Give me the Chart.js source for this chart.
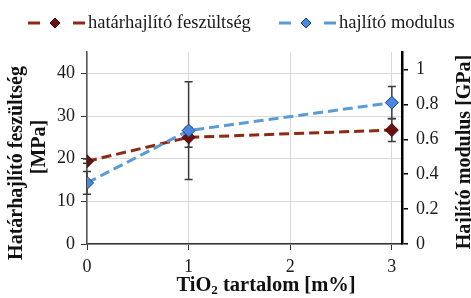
<!DOCTYPE html>
<html>
<head>
<meta charset="utf-8">
<script src="https://cdn.jsdelivr.net/npm/chart.js@4.4.1/dist/chart.umd.min.js"></script>
<style>
  html, body { margin: 0; padding: 0; background: #fff; }
  #chart { display: block; }
</style>
</head>
<body>
<canvas id="chart" width="471" height="298"></canvas>
<script>
// values
const tioContent = [0, 1, 3];
const strengthMPa = [19.4, 25.0, 26.7];
const strengthErr = [0.5, 2.3, 2.7];
const modulusGPa = [0.35, 0.65, 0.81];
const modulusErr = [0.065, 0.28, 0.092];

const seriesNames = ['határhajlító feszültség', 'hajlító modulus'];
const xTicks = [0, 1, 2, 3];
const leftTicks = [0, 10, 20, 30, 40];
const rightTicks = [0, 0.2, 0.4, 0.6, 0.8, 1];

const SERIF = "'Liberation Serif', 'Times New Roman', serif";
const RED_LINE = '#8e2a14';
const RED_MARK = '#6c1010';
const BLUE_LINE = '#5b9bd5';
const BLUE_MARK = '#4a88e0';

const toPoints = (ys) => tioContent.map((x, i) => ({ x: x, y: ys[i] }));
const fixTicks = (list) => (scale) => { scale.ticks = list.map(v => ({ value: v })); };

// error bars under the markers
const errorBars = {
  id: 'errorBars',
  beforeDatasetsDraw(chart) {
    const ctx = chart.ctx;
    const xs = chart.scales.x;
    const sets = [
      { axis: chart.scales.y, vals: strengthMPa, errs: strengthErr },
      { axis: chart.scales.y1, vals: modulusGPa, errs: modulusErr }
    ];
    ctx.save();
    ctx.strokeStyle = '#3a3a3a';
    ctx.lineWidth = 1.5;
    sets.forEach(s => {
      tioContent.forEach((x, i) => {
        const px = xs.getPixelForValue(x);
        const top = s.axis.getPixelForValue(s.vals[i] + s.errs[i]);
        const bot = s.axis.getPixelForValue(s.vals[i] - s.errs[i]);
        ctx.beginPath();
        ctx.moveTo(px, top); ctx.lineTo(px, bot);
        ctx.moveTo(px - 4, top); ctx.lineTo(px + 4, top);
        ctx.moveTo(px - 4, bot); ctx.lineTo(px + 4, bot);
        ctx.stroke();
      });
    });
    ctx.restore();
  }
};

function diamond(ctx, x, y, r, fill, stroke) {
  ctx.beginPath();
  ctx.moveTo(x, y - r); ctx.lineTo(x + r, y); ctx.lineTo(x, y + r); ctx.lineTo(x - r, y);
  ctx.closePath();
  ctx.fillStyle = fill; ctx.fill();
  ctx.strokeStyle = stroke; ctx.lineWidth = 1; ctx.stroke();
}

// legend "– ◆ – name" and axis titles
const decorations = {
  id: 'decorations',
  afterDraw(chart) {
    const ctx = chart.ctx;
    ctx.save();
    const items = [
      { x: 28, color: RED_LINE, mark: RED_MARK, border: '#3c0606', text: seriesNames[0] },
      { x: 279, color: BLUE_LINE, mark: BLUE_MARK, border: '#1f3c88', text: seriesNames[1] }
    ];
    const ly = 23;
    items.forEach(it => {
      ctx.strokeStyle = it.color;
      ctx.lineWidth = 3;
      ctx.beginPath();
      ctx.moveTo(it.x, ly); ctx.lineTo(it.x + 12, ly);
      ctx.moveTo(it.x + 45, ly); ctx.lineTo(it.x + 57, ly);
      ctx.stroke();
      diamond(ctx, it.x + 27, ly, 5, it.mark, it.border);
      ctx.fillStyle = '#1a1a1a';
      ctx.font = '18.5px ' + SERIF;
      ctx.textBaseline = 'middle';
      ctx.textAlign = 'left';
      ctx.fillText(it.text, it.x + 60, ly);
    });

    ctx.fillStyle = '#111';
    ctx.font = 'bold 20px ' + SERIF;
    ctx.textAlign = 'center';
    ctx.textBaseline = 'middle';
    // left title, two lines
    ctx.save();
    ctx.translate(17, 163); ctx.rotate(-Math.PI / 2);
    ctx.fillText('Határhajlító feszültség', 0, 0);
    ctx.restore();
    ctx.save();
    ctx.translate(40, 147); ctx.rotate(-Math.PI / 2);
    ctx.fillText('[MPa]', 0, 0);
    ctx.restore();
    // right title
    ctx.save();
    ctx.translate(465, 152); ctx.rotate(-Math.PI / 2);
    ctx.fillText('Hajlító modulus [GPa]', 0, 0);
    ctx.restore();
    // x title with subscript
    const a = 'TiO', b = '2', c = ' tartalom [m%]';
    ctx.font = 'bold 20.5px ' + SERIF;
    const wa = ctx.measureText(a).width, wc = ctx.measureText(c).width;
    ctx.font = 'bold 13px ' + SERIF;
    const wb = ctx.measureText(b).width;
    let tx = 266 - (wa + wb + wc) / 2;
    const ty = 286;
    ctx.textAlign = 'left';
    ctx.font = 'bold 20.5px ' + SERIF;
    ctx.fillText(a, tx, ty); tx += wa;
    ctx.font = 'bold 13px ' + SERIF;
    ctx.fillText(b, tx, ty + 5); tx += wb;
    ctx.font = 'bold 20.5px ' + SERIF;
    ctx.fillText(c, tx, ty);
    ctx.restore();
  }
};

new Chart(document.getElementById('chart').getContext('2d'), {
  type: 'line',
  data: {
    datasets: [
      {
        label: seriesNames[0],
        data: toPoints(strengthMPa),
        yAxisID: 'y',
        order: 1,
        borderColor: RED_LINE,
        borderWidth: 3,
        borderDash: [10, 5],
        pointStyle: 'rectRot',
        pointRadius: 6.5,
        pointBackgroundColor: RED_MARK,
        pointBorderColor: '#3c0606',
        pointBorderWidth: 1,
        tension: 0
      },
      {
        label: seriesNames[1],
        data: toPoints(modulusGPa),
        yAxisID: 'y1',
        order: 0,
        borderColor: BLUE_LINE,
        borderWidth: 3,
        borderDash: [10, 5],
        pointStyle: 'rectRot',
        pointRadius: 6.5,
        pointBackgroundColor: BLUE_MARK,
        pointBorderColor: '#1f3c88',
        pointBorderWidth: 1,
        tension: 0
      }
    ]
  },
  options: {
    responsive: false,
    animation: false,
    layout: { padding: { top: 52, left: 0, right: 0, bottom: 0 } },
    plugins: { legend: { display: false }, tooltip: { enabled: false } },
    scales: {
      x: {
        type: 'linear',
        min: 0,
        max: 3.1,
        afterBuildTicks: fixTicks(xTicks),
        afterFit: (s) => { s.height = 54; },
        border: { color: '#333', width: 1.5 },
        grid: { color: '#d9d9d9', tickColor: '#333', tickLength: 6 },
        ticks: { color: '#1a1a1a', padding: 6, font: { family: SERIF, size: 18 } }
      },
      y: {
        position: 'left',
        min: 0,
        max: 45,
        afterBuildTicks: fixTicks(leftTicks),
        afterFit: (s) => { s.width = 87; },
        border: { color: '#555', width: 1.5 },
        grid: { color: '#d9d9d9', tickColor: '#333', tickLength: 6 },
        ticks: { color: '#1a1a1a', padding: 6, font: { family: SERIF, size: 18 } }
      },
      y1: {
        position: 'right',
        min: 0,
        max: 1.1,
        afterBuildTicks: fixTicks(rightTicks),
        afterFit: (s) => { s.width = 69; },
        border: { color: '#000', width: 2.5 },
        grid: { drawOnChartArea: false, tickColor: '#000', tickLength: 6, lineWidth: 1.5 },
        ticks: {
          color: '#1a1a1a',
          padding: 8,
          font: { family: SERIF, size: 18 },
          callback: (v) => String(Math.round(v * 10) / 10)
        }
      }
    }
  },
  plugins: [errorBars, decorations]
});
</script>
</body>
</html>
